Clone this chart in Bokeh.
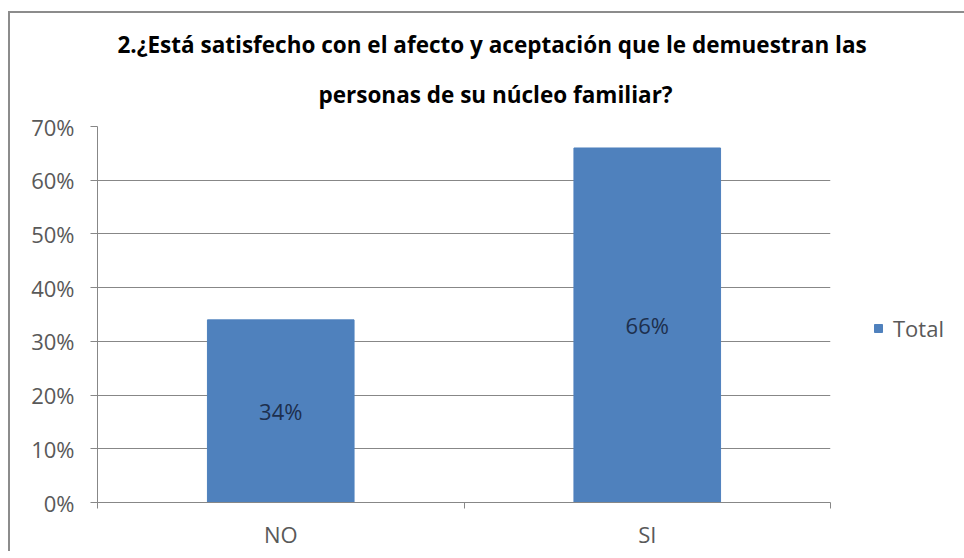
from bokeh.plotting import figure
from bokeh.models import (Range1d, LinearAxis, FixedTicker,
                          NumeralTickFormatter, Grid, Title, Legend, LegendItem,
                          ColumnDataSource, LabelSet)
from bokeh.embed import file_html
from bokeh.resources import INLINE
from bokeh.core.properties import value

# ---- data ----
categories = ["NO", "SI"]
values = [0.34, 0.66]
value_labels = ["34%", "66%"]
series_name = "Total"
y_ticks = [0.0, 0.1, 0.2, 0.3, 0.4, 0.5, 0.6, 0.7]
title_lines = ["2.¿Está satisfecho con el afecto y aceptación que le demuestran las",
               "personas de su núcleo familiar?"]

FONT = "Open Sans"
BAR = "#4F81BD"
GRID = "#878787"
TXT = "#595959"
FS = "22px"

n = len(categories)
centers = [i + 0.5 for i in range(n)]
bounds = [float(i) for i in range(n + 1)]

src = ColumnDataSource(dict(x=centers, cat=categories, val=values,
                            mid=[v / 2 for v in values], lab=value_labels))

p = figure(x_range=Range1d(0, n), y_range=Range1d(0, 0.7),
           frame_width=733, frame_height=376,
           min_border_left=87, min_border_right=134, min_border_top=113, min_border_bottom=30,
           x_axis_location=None, y_axis_location=None,
           output_backend="svg", toolbar_location=None,
           background_fill_color="white", border_fill_color="white",
           outline_line_color=None)
p.styles = {"margin-left": "8px", "margin-top": "11px",
            "border-left": "2px solid #8c8c8c", "border-top": "2px solid #8c8c8c"}
for g in list(p.grid):
    g.visible = False

# y axis
yaxis = LinearAxis(ticker=FixedTicker(ticks=y_ticks), formatter=NumeralTickFormatter(format="0%"),
                   axis_line_color=GRID, major_tick_line_color=GRID, major_tick_out=7,
                   major_tick_in=0, minor_tick_line_color=None,
                   major_label_text_font=FONT, major_label_text_font_size=FS,
                   major_label_text_color=TXT, major_label_standoff=16)
p.add_layout(yaxis, "left")
p.add_layout(Grid(dimension=1, ticker=yaxis.ticker, grid_line_color=GRID, grid_line_width=1))

# category axis: labels at centers, separator ticks at boundaries
xaxis = LinearAxis(ticker=FixedTicker(ticks=centers, minor_ticks=bounds),
                   major_label_overrides={c: cat for c, cat in zip(centers, categories)},
                   axis_line_color=GRID, major_tick_line_color=None, major_tick_out=0,
                   minor_tick_line_color=GRID, minor_tick_out=6, minor_tick_in=0,
                   major_label_text_font=FONT, major_label_text_font_size=FS,
                   major_label_text_color=TXT, major_label_standoff=10)
p.add_layout(xaxis, "below")

bars = p.vbar(x="x", top="val", width=0.4, source=src, fill_color=BAR, line_color=BAR)

p.add_layout(LabelSet(x="x", y="mid", text="lab", source=src, text_align="center",
                      text_baseline="middle", text_font=value(FONT), text_font_size=FS,
                      text_color="#1d2f4d"))

legend = Legend(items=[LegendItem(label=series_name, renderers=[bars])],
                location=(43, 159), orientation="vertical",
                label_text_font=FONT, label_text_font_size=FS, label_text_color=TXT,
                glyph_width=10, glyph_height=10, label_standoff=10, margin=0, padding=0,
                border_line_color=None, background_fill_alpha=0)
p.add_layout(legend, "right")

# title (two lines), first added is nearest the frame
p.add_layout(Title(text=title_lines[1], align="left", offset=221, text_font=FONT,
                   text_font_size="22.5px", text_font_style="bold", text_color="black",
                   standoff=34), "above")
p.add_layout(Title(text=title_lines[0], align="left", offset=20, text_font=FONT,
                   text_font_size="22.5px", text_font_style="bold", text_color="black",
                   standoff=0), "above")

open("out.html", "w").write(file_html(p, INLINE))
